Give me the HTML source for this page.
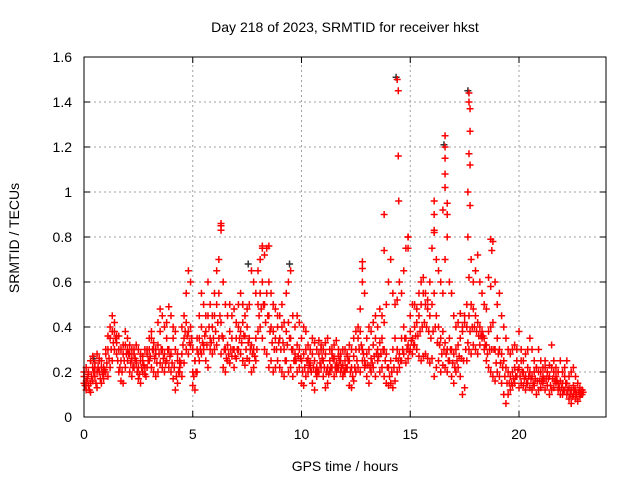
<!DOCTYPE html>
<html><head><meta charset="utf-8"><style>
html,body{margin:0;padding:0;background:#fff}
svg{display:block;font-family:"Liberation Sans",sans-serif}
</style></head><body>
<svg id="chart" width="640" height="480">
<text x="345" y="32" text-anchor="middle" font-size="14">Day 218 of 2023, SRMTID for receiver hkst</text>
<text x="345" y="471" text-anchor="middle" font-size="14">GPS time / hours</text>
<text transform="translate(19,238) rotate(-90)" text-anchor="middle" font-size="14">SRMTID / TECUs</text>
<g id="grid"></g><g id="ticks"></g><g id="marks"></g>
<rect x="84" y="57" width="522" height="360" fill="none" stroke="#000" stroke-width="1"/>
</svg>
<script>
const xTicks=[0,5,10,15,20];
const yTicks=[0,0.2,0.4,0.6,0.8,1,1.2,1.4,1.6];
const yTickLabels=["0","0.2","0.4","0.6","0.8","1","1.2","1.4","1.6"];
const stepHour=0.1;
const seriesA=[.15,.12,.14,.11,.16,.18,.13,.2,.15,.17,.2,.18,.22,.25,.3,.28,.2,.16,.15,.22,.25,.2,.18,.22,.24,.17,.15,.2,.19,.22,.25,.22,.2,.18,.2,.24,.22,.2,.25,.22,.2,.17,.12,.15,.2,.18,.24,.3,.28,.32,.14,.12,.2,.25,.28,.3,.25,.22,.3,.28,.3,.32,.35,.28,.22,.2,.25,.24,.27,.22,.26,.3,.28,.25,.23,.26,.25,.2,.22,.25,.38,.4,.35,.3,.28,.22,.25,.2,.22,.25,.22,.2,.18,.25,.2,.22,.18,.25,.2,.22,.15,.14,.18,.2,.22,.15,.12,.18,.2,.22,.18,.13,.15,.2,.22,.18,.2,.22,.2,.18,.2,.22,.14,.13,.16,.2,.22,.2,.25,.22,.18,.15,.2,.22,.18,.25,.2,.22,.18,.15,.14,.15,.13,.16,.2,.22,.25,.28,.24,.26,.3,.28,.32,.3,.27,.25,.27,.28,.26,.24,.26,.18,.22,.25,.2,.23,.22,.2,.25,.18,.15,.2,.22,.18,.1,.13,.25,.3,.28,.32,.3,.28,.32,.35,.3,.25,.22,.2,.18,.16,.2,.18,.15,.1,.06,.1,.12,.14,.15,.18,.13,.15,.14,.12,.15,.13,.12,.14,.1,.12,.13,.15,.12,.14,.1,.12,.13,.15,.12,.1,.1,.12,.1,.08,.06,.1,.08,.07,.09,.1];
const seriesB=[.18,.16,.2,.15,.22,.24,.2,.25,.22,.2,.28,.3,.35,.38,.42,.36,.3,.25,.28,.32,.3,.28,.26,.3,.25,.22,.28,.25,.22,.3,.3,.35,.3,.28,.32,.38,.3,.28,.35,.3,.28,.35,.38,.25,.22,.28,.35,.42,.38,.4,.2,.25,.3,.35,.4,.32,.38,.45,.35,.4,.45,.5,.55,.42,.35,.3,.32,.38,.35,.3,.35,.4,.38,.42,.36,.4,.35,.32,.3,.35,.5,.55,.6,.5,.55,.45,.4,.38,.35,.4,.35,.4,.3,.38,.42,.35,.3,.28,.32,.3,.25,.28,.3,.26,.24,.28,.25,.22,.28,.3,.25,.28,.22,.25,.3,.26,.24,.27,.25,.23,.25,.28,.25,.22,.27,.3,.35,.38,.3,.25,.28,.3,.26,.32,.35,.3,.33,.35,.3,.28,.22,.25,.3,.35,.3,.28,.35,.4,.35,.32,.38,.35,.4,.42,.45,.5,.55,.5,.48,.45,.5,.55,.45,.4,.35,.38,.33,.3,.35,.3,.28,.3,.32,.35,.38,.42,.4,.45,.5,.48,.45,.42,.4,.38,.35,.32,.38,.4,.42,.3,.35,.3,.28,.25,.22,.2,.18,.2,.22,.25,.22,.25,.2,.18,.22,.2,.18,.2,.22,.2,.2,.18,.22,.2,.18,.22,.2,.18,.15,.16,.15,.18,.15,.13,.12,.14,.12,.15,.1,.12];
const seriesC=[.2,.22,.19,.25,.27,.22,.28,.26,.25,.22,.3,.36,.4,.45,.38,.33,.36,.3,.32,.38,.35,.32,.3,.28,.32,.3,.25,.27,.3,.28,.35,.38,.33,.3,.42,.48,.45,.4,.42,.49,.45,.4,.3,.28,.25,.4,.45,.55,.65,.6,.3,.25,.35,.45,.55,.5,.45,.6,.5,.45,.55,.65,.7,.85,.6,.5,.45,.5,.45,.48,.42,.5,.55,.5,.45,.48,.5,.65,.6,.55,.65,.7,.75,.72,.75,.6,.55,.5,.48,.45,.45,.5,.42,.55,.6,.65,.45,.4,.45,.42,.35,.4,.38,.32,.3,.35,.33,.3,.34,.32,.3,.33,.35,.3,.28,.32,.34,.3,.28,.3,.3,.27,.32,.3,.35,.38,.4,.48,.6,.55,.35,.4,.38,.42,.45,.4,.48,.45,.42,.5,.6,.7,.55,.5,.52,.6,.55,.65,.75,.8,.45,.5,.5,.48,.55,.6,.62,.55,.52,.6,.75,.82,.7,.65,.6,.55,.7,.8,.6,.55,.45,.4,.42,.46,.4,.45,.5,.62,.7,.6,.65,.72,.6,.55,.5,.48,.62,.58,.78,.6,.5,.55,.45,.4,.35,.3,.28,.3,.32,.3,.38,.3,.25,.28,.3,.35,.3,.25,.22,.3,.25,.22,.25,.2,.23,.32,.25,.22,.2,.25,.2,.22,.25,.18,.2,.22,.18,.15,.13,.12];
const seriesD=[.14,.17,.12,.18,.2,.15,.22,.17,.19,.21,.24,.26,.3,.33,.35,.25,.22,.2,.25,.28,.28,.24,.22,.26,.2,.19,.22,.23,.18,.25,.27,.3,.26,.24,.28,.3,.26,.24,.3,.27,.24,.22,.18,.2,.24,.32,.38,.36,.33,.35,.18,.2,.28,.3,.33,.36,.32,.4,.33,.35,.38,.42,.45,.36,.3,.26,.28,.3,.3,.27,.3,.35,.33,.36,.3,.33,.3,.28,.27,.3,.45,.48,.5,.42,.45,.38,.33,.3,.3,.33,.3,.33,.25,.32,.35,.3,.25,.25,.27,.26,.2,.22,.25,.23,.2,.22,.2,.2,.24,.26,.22,.2,.19,.22,.26,.22,.22,.25,.22,.2,.22,.25,.2,.18,.22,.25,.3,.32,.28,.23,.23,.22,.24,.27,.28,.27,.28,.3,.25,.22,.18,.2,.22,.26,.25,.25,.3,.35,.3,.29,.34,.32,.36,.36,.38,.4,.42,.4,.38,.35,.38,.4,.33,.32,.28,.3,.28,.25,.3,.24,.22,.25,.27,.26,.25,.3,.33,.38,.4,.4,.38,.36,.36,.36,.32,.28,.3,.3,.3,.24,.28,.24,.22,.18,.15,.15,.15,.17,.18,.21,.18,.2,.17,.15,.18,.17,.15,.17,.16,.16,.16,.17,.17,.17,.14,.17,.16,.16,.13,.13,.12,.15,.12,.1,.09,.12,.1,.11,.1,.11];
const spikeHours=[14.4,14.45,14.45,14.47,13.8,13.8,14.9,14.9,16.6,16.6,16.6,16.6,16.6,16.7,16.7,16.5,16.1,16.1,16.1,17.7,17.7,17.75,17.75,17.7,17.75,17.65,17.75,17.65,6.3,6.3,12.8,12.8,18.7,18.75,8.2,8.5];
const spikeValues=[1.5,1.45,1.16,0.96,0.9,0.74,0.8,0.75,1.25,1.2,1.15,1.08,1.02,0.95,0.9,0.92,0.96,0.9,0.83,1.44,1.4,1.37,1.27,1.17,1.12,1.0,0.94,0.8,0.86,0.83,0.69,0.66,0.79,0.74,0.76,0.76];
const blackHours=[14.35,17.65,16.55,9.45,7.55,0.45];
const blackValues=[1.51,1.45,1.21,0.68,0.68,0.26];

const X0=84,X1=606,Y0=417,Y1=57,XMAX=24,YMAX=1.6;
const xs=h=>X0+h/XMAX*(X1-X0);
const ys=v=>Y0-v/YMAX*(Y0-Y1);
const NS="http://www.w3.org/2000/svg";
const grid=document.getElementById('grid'),ticks=document.getElementById('ticks'),marks=document.getElementById('marks');
function mk(tag,parent,attrs){const e=document.createElementNS(NS,tag);for(const k in attrs)e.setAttribute(k,attrs[k]);parent.appendChild(e);return e;}
xTicks.forEach(t=>{const x=xs(t);
 if(t>0){const g=mk('line',grid,{x1:x,y1:Y0,x2:x,y2:Y1,stroke:'#a0a0a0','stroke-dasharray':'2,3'});
 
 }
 mk('line',ticks,{x1:x,y1:Y0,x2:x,y2:Y0-6,stroke:'#000'});mk('line',ticks,{x1:x,y1:Y1,x2:x,y2:Y1+6,stroke:'#000'});
 const l=mk('text',ticks,{x:x,y:Y0+22,'text-anchor':'middle','font-size':14});l.textContent=t;
 
 });
yTicks.forEach((t,i)=>{const y=ys(t);
 if(t>0&&t<YMAX){const g=mk('line',grid,{x1:X0,y1:y,x2:X1,y2:y,stroke:'#a0a0a0','stroke-dasharray':'2,3'});
 
 }
 mk('line',ticks,{x1:X0,y1:y,x2:X0+6,y2:y,stroke:'#000'});mk('line',ticks,{x1:X1,y1:y,x2:X1-6,y2:y,stroke:'#000'});
 const l=mk('text',ticks,{x:X0-12,y:y+5,'text-anchor':'end','font-size':14});l.textContent=yTickLabels[i];
 
 });
function cross(h,v,col,name){const x=xs(h),y=ys(v);
 const p=mk('path',marks,{d:`M${x-3.5},${y}H${x+3.5}M${x},${y-3.5}V${y+3.5}`,stroke:col,'stroke-width':1.5,fill:'none'});
 
 }
blackHours.forEach((h,i)=>cross(h,blackValues[i],'#333','black-point'));
[seriesA,seriesB,seriesC].forEach(s=>s.forEach((v,i)=>cross(i*stepHour,v,'#ff0000','srmtid-point')));
seriesD.forEach((v,i)=>cross(i*stepHour+stepHour/2,v,'#ff0000','srmtid-point'));
spikeHours.forEach((h,i)=>cross(h,spikeValues[i],'#ff0000','srmtid-spike-point'));
</script>
</body></html>
